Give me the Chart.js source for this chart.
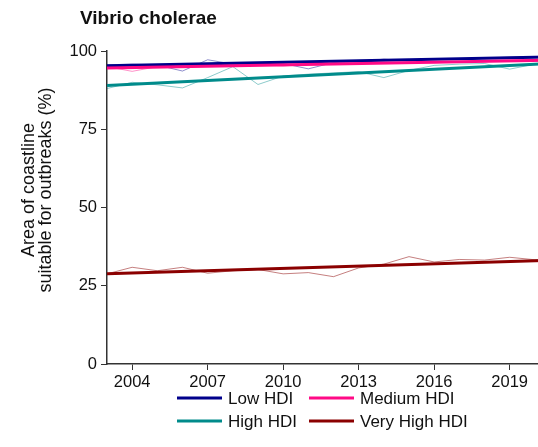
<!DOCTYPE html>
<html>
<head>
<meta charset="utf-8">
<script src="https://cdn.jsdelivr.net/npm/chart.js@4.4.1/dist/chart.umd.min.js"></script>
<style>
  html, body { margin:0; padding:0; background:#fff; }
  #clip { width:538px; height:447px; overflow:hidden; position:relative; }
  #wrap { width:560px; height:447px; position:absolute; left:0; top:0; }
</style>
</head>
<body>
<div id="clip"><div id="wrap"><canvas id="chart"></canvas></div></div>
<script>
// yearly values
const years = [2003, 2004, 2005, 2006, 2007, 2008, 2009, 2010, 2011, 2012, 2013, 2014, 2015, 2016, 2017, 2018, 2019, 2020, 2021];
const lowHdi      = [95.6, 95.8, 95.5, 93.6, 97.2, 95.8, 95.8, 96.0, 94.3, 96.3, 96.6, 97.4, 96.8, 97.5, 97.3, 97.8, 98.0, 98.2, 98.3];
const mediumHdi   = [95.0, 93.5, 95.0, 95.2, 95.4, 95.5, 95.6, 95.2, 95.8, 95.9, 96.0, 96.3, 96.4, 96.2, 96.6, 97.0, 97.1, 97.3, 97.4];
const highHdi     = [88.0, 90.0, 89.2, 88.2, 91.5, 95.0, 89.3, 92.0, 92.6, 93.0, 93.4, 91.5, 93.8, 95.4, 95.8, 96.0, 94.2, 95.8, 96.4];
const veryHighHdi = [28.8, 30.9, 29.8, 30.9, 29.0, 29.8, 30.2, 28.8, 29.2, 27.9, 30.7, 31.9, 34.3, 32.6, 33.4, 33.2, 34.1, 33.3, 33.6];

// linear trends (start / end of range)
const trendYears = [2003, 2021];
const lowTrend      = [95.3, 98.2];
const mediumTrend   = [94.6, 97.1];
const highTrend     = [89.0, 96.2];
const veryHighTrend = [28.8, 33.2];

const xTicks = [2004, 2007, 2010, 2013, 2016, 2019];
const yTicks = [0, 25, 50, 75, 100];

const seriesNames = ['Low HDI', 'Medium HDI', 'High HDI', 'Very High HDI'];
const colors = ['#00008b', '#ff0a86', '#008b8b', '#8b0000'];
const thinColors = ['rgba(0,0,139,0.45)', 'rgba(255,10,134,0.45)', 'rgba(0,139,139,0.45)', 'rgba(139,0,0,0.5)'];

const pts = (xs, ys) => xs.map((x, i) => ({ x: x, y: ys[i] }));
const raw = [lowHdi, mediumHdi, highHdi, veryHighHdi];
const trends = [lowTrend, mediumTrend, highTrend, veryHighTrend];

const datasets = [];
raw.forEach((r, i) => datasets.push({
  label: seriesNames[i] + ' raw', data: pts(years, r), borderColor: thinColors[i],
  borderWidth: 1, pointRadius: 0, tension: 0, order: 10
}));
trends.forEach((t, i) => datasets.push({
  label: seriesNames[i], data: pts(trendYears, t), borderColor: colors[i],
  borderWidth: 3, pointRadius: 0, order: 4 - i
}));

const font = 'Liberation Sans, Arial, sans-serif';

const extras = {
  id: 'extras',
  afterDraw(chart) {
    const ctx = chart.ctx;
    ctx.save();
    ctx.fillStyle = '#111';
    ctx.font = 'bold 19px ' + font;
    ctx.textAlign = 'left';
    ctx.textBaseline = 'middle';
    ctx.fillText('Vibrio cholerae', 80, 19);

    // y axis title, two lines
    ctx.font = '18px ' + font;
    ctx.textAlign = 'center';
    ctx.save();
    ctx.translate(29, 190);
    ctx.rotate(-Math.PI / 2);
    ctx.fillText('Area of coastline', 0, 0);
    ctx.restore();
    ctx.save();
    ctx.translate(46, 190);
    ctx.rotate(-Math.PI / 2);
    ctx.fillText('suitable for outbreaks (%)', 0, 0);
    ctx.restore();

    // legend 2x2
    const cols = [177, 309];
    const rows = [398, 421];
    ctx.font = '17px ' + font;
    ctx.textAlign = 'left';
    seriesNames.forEach((name, i) => {
      const x = cols[i % 2], y = rows[Math.floor(i / 2)];
      ctx.strokeStyle = colors[i];
      ctx.lineWidth = 3;
      ctx.beginPath();
      ctx.moveTo(x, y);
      ctx.lineTo(x + 45, y);
      ctx.stroke();
      ctx.fillStyle = '#111';
      ctx.fillText(name, x + 51, y + 1);
    });
    ctx.restore();
  }
};

new Chart(document.getElementById('chart'), {
  type: 'line',
  data: { datasets: datasets },
  plugins: [extras],
  options: {
    responsive: true,
    maintainAspectRatio: false,
    animation: false,
    layout: { padding: { top: 51, left: 0, right: 0, bottom: 0 } },
    plugins: { legend: { display: false }, tooltip: { enabled: false } },
    scales: {
      x: {
        type: 'linear', min: 2003, max: 2021,
        afterBuildTicks: s => { s.ticks = xTicks.map(v => ({ value: v })); },
        afterFit: s => { s.height = 83; },
        grid: { drawOnChartArea: false, drawTicks: true, tickLength: 6, color: '#333' },
        border: { display: true, color: '#333', width: 1.5 },
        ticks: { color: '#111', font: { size: 16.5, family: font }, padding: 3, maxRotation: 0, callback: v => String(v) }
      },
      y: {
        min: 0, max: 100,
        afterBuildTicks: s => { s.ticks = yTicks.map(v => ({ value: v })); },
        afterFit: s => { s.width = 107; },
        grid: { drawOnChartArea: false, drawTicks: true, tickLength: 6, color: '#333' },
        border: { display: true, color: '#333', width: 1.5 },
        ticks: { color: '#111', font: { size: 16.5, family: font }, padding: 4 }
      }
    }
  }
});
</script>
</body>
</html>
